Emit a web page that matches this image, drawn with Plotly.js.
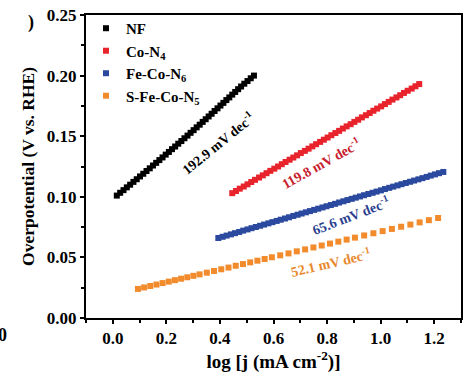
<!DOCTYPE html>
<html>
<head>
<meta charset="utf-8">
<script src="https://cdn.plot.ly/plotly-3.0.1.min.js"></script>
<style>
html,body{margin:0;padding:0;background:#fff;}
#chart{width:469px;height:374px;}
</style>
</head>
<body>
<div id="chart"></div>
<script>
// ---- data ----
const seriesNames = ['NF', 'Co-N<sub>4</sub>', 'Fe-Co-N<sub>6</sub>', 'S-Fe-Co-N<sub>5</sub>'];

const nfX = [0.015, 0.0275, 0.040, 0.0524, 0.0648, 0.0771, 0.0894, 0.1016, 0.1138, 0.1259,
  0.138, 0.150, 0.162, 0.1739, 0.1858, 0.1976, 0.2094, 0.2211, 0.2328, 0.2444,
  0.256, 0.2675, 0.279, 0.2904, 0.3018, 0.3131, 0.3244, 0.3356, 0.3468, 0.3579,
  0.369, 0.380, 0.391, 0.402, 0.413, 0.424, 0.435, 0.446, 0.457, 0.468,
  0.479, 0.491, 0.503, 0.515, 0.527];
const nfY = [0.101, 0.1033, 0.1055, 0.1078, 0.110, 0.1123, 0.1145, 0.1168, 0.119, 0.1213,
  0.1235, 0.1258, 0.128, 0.1303, 0.1325, 0.1348, 0.137, 0.1393, 0.1415, 0.1438,
  0.146, 0.1483, 0.1505, 0.1528, 0.155, 0.1573, 0.1595, 0.1618, 0.164, 0.1663,
  0.1685, 0.1708, 0.173, 0.1753, 0.1775, 0.1798, 0.182, 0.1843, 0.1865, 0.1888,
  0.191, 0.1933, 0.1955, 0.1978, 0.200];

const coX = [0.446, 0.460, 0.474, 0.489, 0.503, 0.517, 0.531, 0.546, 0.560, 0.574,
  0.588, 0.603, 0.617, 0.631, 0.645, 0.660, 0.674, 0.688, 0.702, 0.717,
  0.731, 0.745, 0.759, 0.774, 0.788, 0.802, 0.816, 0.831, 0.845, 0.859,
  0.873, 0.888, 0.902, 0.916, 0.930, 0.945, 0.959, 0.973, 0.987, 1.002,
  1.016, 1.030, 1.044, 1.059, 1.073, 1.087, 1.101, 1.116, 1.130, 1.144];
const coY = [0.1030, 0.1048, 0.1067, 0.1085, 0.1103, 0.1122, 0.1140, 0.1159, 0.1177, 0.1195,
  0.1214, 0.1232, 0.1250, 0.1269, 0.1287, 0.1306, 0.1324, 0.1342, 0.1361, 0.1379,
  0.1397, 0.1416, 0.1434, 0.1453, 0.1471, 0.1489, 0.1508, 0.1526, 0.1544, 0.1563,
  0.1581, 0.1599, 0.1618, 0.1636, 0.1655, 0.1673, 0.1691, 0.1710, 0.1728, 0.1746,
  0.1765, 0.1783, 0.1802, 0.1820, 0.1838, 0.1857, 0.1875, 0.1893, 0.1912, 0.1930];

const feX = [0.394, 0.410, 0.425, 0.441, 0.456, 0.472, 0.487, 0.503, 0.518, 0.534,
  0.550, 0.565, 0.581, 0.596, 0.612, 0.627, 0.643, 0.658, 0.674, 0.690,
  0.705, 0.721, 0.736, 0.752, 0.767, 0.783, 0.798, 0.814, 0.830, 0.845,
  0.861, 0.876, 0.892, 0.907, 0.923, 0.938, 0.954, 0.970, 0.985, 1.001,
  1.016, 1.032, 1.047, 1.063, 1.078, 1.094, 1.110, 1.125, 1.141, 1.156,
  1.172, 1.187, 1.203, 1.218, 1.234];
const feY = [0.0660, 0.0670, 0.0680, 0.0690, 0.0700, 0.0710, 0.0721, 0.0731, 0.0741, 0.0751,
  0.0761, 0.0771, 0.0781, 0.0791, 0.0801, 0.0811, 0.0821, 0.0831, 0.0842, 0.0852,
  0.0862, 0.0872, 0.0882, 0.0892, 0.0902, 0.0912, 0.0922, 0.0932, 0.0942, 0.0953,
  0.0963, 0.0973, 0.0983, 0.0993, 0.1003, 0.1013, 0.1023, 0.1033, 0.1043, 0.1053,
  0.1064, 0.1074, 0.1084, 0.1094, 0.1104, 0.1114, 0.1124, 0.1134, 0.1144, 0.1154,
  0.1164, 0.1175, 0.1185, 0.1195, 0.1205];

const sfeX = [0.094, 0.117, 0.140, 0.163, 0.186, 0.209, 0.232, 0.255, 0.278, 0.301,
  0.324, 0.351, 0.378, 0.405, 0.432, 0.459, 0.486, 0.513, 0.540, 0.567,
  0.594, 0.625, 0.656, 0.687, 0.718, 0.749, 0.780, 0.811, 0.842, 0.873,
  0.904, 0.9385, 0.973, 1.0075, 1.042, 1.0765, 1.111, 1.1455, 1.180, 1.2145];
const sfeY = [0.0240, 0.0252, 0.0264, 0.0276, 0.0288, 0.0300, 0.0312, 0.0324, 0.0336, 0.0348,
  0.0360, 0.0374, 0.0388, 0.0402, 0.0416, 0.0431, 0.0445, 0.0459, 0.0473, 0.0487,
  0.0501, 0.0517, 0.0533, 0.0550, 0.0566, 0.0582, 0.0598, 0.0614, 0.0630, 0.0647,
  0.0663, 0.0681, 0.0699, 0.0717, 0.0735, 0.0753, 0.0771, 0.0789, 0.0807, 0.0825];

const slopeLabels = ['192.9 mV dec<sup>-1</sup>', '119.8 mV dec<sup>-1</sup>', '65.6 mV dec<sup>-1</sup>', '52.1 mV dec<sup>-1</sup>'];
const slopeLabelX = [0.392, 0.776, 0.889, 0.814];
const slopeLabelY = [0.144, 0.128, 0.085, 0.046];

const xTickVals = [0.0, 0.2, 0.4, 0.6, 0.8, 1.0, 1.2];
const xTickText = ['0.0', '0.2', '0.4', '0.6', '0.8', '1.0', '1.2'];
const yTickVals = [0.00, 0.05, 0.10, 0.15, 0.20, 0.25];
const yTickText = ['0.00', '0.05', '0.10', '0.15', '0.20', '0.25'];

// ---- styling ----
const FONT = 'Liberation Serif, Times New Roman, serif';
const colors = ['#000000', '#e8232c', '#2b4a9f', '#f28b2c'];
const textColors = ['#000000', '#c8202c', '#2b3f8f', '#e8892e'];
const angles = [-39, -29, -21, -13];

const xs = [nfX, coX, feX, sfeX];
const ys = [nfY, coY, feY, sfeY];

const traces = xs.map((x, i) => ({
  type: 'scatter', mode: 'markers', x: x, y: ys[i], name: seriesNames[i],
  marker: {symbol: 'square', size: 6, color: colors[i], line: {width: 0}},
  cliponaxis: false
}));

const annotations = slopeLabels.map((t, i) => ({
  text: t, x: slopeLabelX[i], y: slopeLabelY[i], xref: 'x', yref: 'y',
  showarrow: false, textangle: angles[i], xanchor: 'center', yanchor: 'middle',
  font: {family: FONT, size: 14, color: textColors[i], weight: 700}
}));
// fragments of the neighbouring panel visible at the picture's left edge
annotations.push({text: ')', xref: 'paper', yref: 'paper', x: -0.146, y: 0.975, showarrow: false,
  xanchor: 'center', yanchor: 'middle', font: {family: FONT, size: 18, color: '#000', weight: 700}});
annotations.push({text: '0', xref: 'paper', yref: 'paper', x: -0.224, y: -0.056, showarrow: false,
  xanchor: 'center', yanchor: 'middle', font: {family: FONT, size: 18, color: '#000', weight: 700}});

const axisCommon = {
  showgrid: false, zeroline: false, showline: true, linewidth: 2, linecolor: '#000',
  mirror: true, ticks: 'outside', ticklen: 4, tickwidth: 2, tickcolor: '#000',
  tickfont: {family: FONT, size: 17, color: '#000', weight: 700}
};

const layout = {
  width: 469, height: 374,
  margin: {l: 86, r: 8, t: 15, b: 56},
  paper_bgcolor: '#fff', plot_bgcolor: '#fff',
  showlegend: true,
  legend: {x: 0.0, y: 1.01, xanchor: 'left', yanchor: 'top', bgcolor: 'rgba(0,0,0,0)',
    font: {family: FONT, size: 15, color: '#000', weight: 700}, tracegroupgap: 0},
  xaxis: Object.assign({}, axisCommon, {
    range: [-0.1, 1.3], tickmode: 'array', tickvals: xTickVals, ticktext: xTickText,
    minor: {dtick: 0.1, tick0: 0, ticks: 'outside', ticklen: 3, tickwidth: 2, tickcolor: '#000'},
    title: {text: 'log [j (mA cm<sup>-2</sup>)]', standoff: 3,
      font: {family: FONT, size: 19, color: '#000', weight: 700}}
  }),
  yaxis: Object.assign({}, axisCommon, {
    range: [0, 0.25], tickmode: 'array', tickvals: yTickVals, ticktext: yTickText,
    minor: {dtick: 0.025, tick0: 0, ticks: 'outside', ticklen: 3, tickwidth: 2, tickcolor: '#000'},
    title: {text: 'Overpotential (V vs. RHE)', standoff: 8,
      font: {family: FONT, size: 17.5, color: '#000', weight: 700}}
  }),
  annotations: annotations
};

Plotly.newPlot('chart', traces, layout, {displayModeBar: false, staticPlot: true});
</script>
</body>
</html>
